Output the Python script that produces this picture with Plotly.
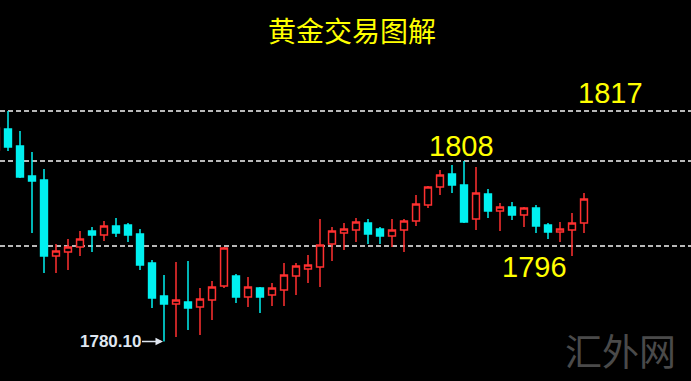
import plotly.graph_objects as go

# ---- data ----
idx = list(range(-1, 49))
open_ = [1812.0, 1815.5, 1812.67, 1807.67, 1807.0, 1794.33, 1795.0, 1795.83, 1798.5, 1797.83, 1799.33,
         1799.5, 1798.0, 1793.17, 1787.67, 1786.33, 1786.67, 1785.83, 1787.0, 1789.33, 1791.0,
         1787.5, 1789.0, 1787.83, 1788.67, 1791.0, 1792.17, 1792.5, 1796.33, 1798.17, 1798.67,
         1799.83, 1798.83, 1797.67, 1798.67, 1800.17, 1802.83, 1805.83, 1808.0, 1806.17, 1800.5,
         1804.67, 1801.83, 1802.5, 1801.17, 1802.33, 1799.5, 1798.33, 1798.67, 1799.83]
close_ = [1815.67, 1812.5, 1807.5, 1806.83, 1794.33, 1795.17, 1795.83, 1797.17, 1797.83, 1799.33, 1798.17,
          1797.83, 1792.83, 1787.33, 1786.33, 1787.0, 1785.67, 1787.17, 1789.17, 1795.67, 1787.5,
          1789.17, 1787.5, 1789.0, 1791.17, 1792.67, 1792.83, 1796.17, 1798.5, 1798.83, 1800.0,
          1798.0, 1797.67, 1798.67, 1800.17, 1803.0, 1805.83, 1807.83, 1806.17, 1800.0, 1804.83,
          1801.83, 1802.5, 1801.17, 1802.33, 1799.33, 1798.33, 1798.83, 1799.83, 1803.83]
high_ = [1816.5, 1818.5, 1815.17, 1811.67, 1808.83, 1796.33, 1797.17, 1798.5, 1799.17, 1800.17, 1800.67,
         1799.83, 1798.83, 1793.67, 1791.17, 1793.33, 1793.5, 1789.0, 1790.17, 1795.83, 1791.33,
         1790.83, 1789.17, 1789.83, 1793.17, 1793.17, 1794.5, 1800.5, 1799.17, 1799.83, 1800.67,
         1800.5, 1799.17, 1800.5, 1800.5, 1804.5, 1806.0, 1808.67, 1809.5, 1810.17, 1809.17,
         1805.5, 1803.17, 1803.33, 1802.5, 1802.83, 1799.83, 1800.0, 1801.5, 1804.83]
low_ = [1811.5, 1811.83, 1807.33, 1798.17, 1791.5, 1791.5, 1792.0, 1794.33, 1795.0, 1796.83, 1797.5,
        1796.67, 1792.0, 1785.67, 1780.1, 1780.83, 1782.0, 1781.17, 1783.67, 1789.0, 1786.5,
        1785.83, 1784.83, 1786.0, 1786.0, 1787.83, 1789.83, 1789.17, 1793.5, 1795.33, 1796.67,
        1796.33, 1796.33, 1795.83, 1795.0, 1799.33, 1802.33, 1804.5, 1804.83, 1799.83, 1798.67,
        1800.67, 1798.5, 1800.33, 1799.17, 1798.17, 1797.17, 1796.67, 1794.33, 1798.17]

level_values = [1818.5, 1810.17, 1796.0]
level_labels = ["1817", "1808", "1796"]
low_label = "1780.10"
low_index = 13
low_value = 1780.1
title_text = "黄金交易图解"
watermark = "汇外网"

W, H = 691, 381

fig = go.Figure()
fig.add_trace(go.Candlestick(
    x=idx, open=open_, high=high_, low=low_, close=close_,
    increasing=dict(line=dict(color="#ff3030", width=1.5), fillcolor="#000000"),
    decreasing=dict(line=dict(color="#00f0f0", width=1.5), fillcolor="#00f0f0"),
    hoverinfo="skip", showlegend=False,
))

for v in level_values:
    fig.add_shape(type="line", xref="paper", x0=0, x1=1, yref="y", y0=v, y1=v,
                  line=dict(color="#b8b8b8", width=2, dash="5px,3px"), layer="below")

label_px = [(610, 93), (461, 146), (534, 267)]
for txt, (px, py) in zip(level_labels, label_px):
    fig.add_annotation(text=txt, xref="paper", yref="paper", x=px / W, y=1 - py / H,
                       xanchor="center", yanchor="middle", showarrow=False,
                       font=dict(family="Liberation Sans, Arial", size=29, color="#ffff00"))

fig.add_annotation(text=title_text, xref="paper", yref="paper", x=352 / W, y=1 - 30 / H,
                   xanchor="center", yanchor="middle", showarrow=False,
                   font=dict(family="Noto Sans CJK SC", size=28, color="#ffff00"))

fig.add_annotation(text="<b>" + low_label + "</b>", x=low_index, y=low_value, xref="x", yref="y",
                   showarrow=True, ax=-54, ay=0, arrowhead=2, arrowsize=1, arrowwidth=1.5,
                   arrowcolor="#dfe6f0", standoff=1,
                   font=dict(family="Liberation Sans, Arial", size=17, color="#dfe6f0"))

fig.add_annotation(text=watermark, xref="paper", yref="paper", x=620 / W, y=1 - 350 / H,
                   xanchor="center", yanchor="middle", showarrow=False,
                   font=dict(family="Noto Sans CJK SC", size=37, color="#4a4a4a"))

fig.update_layout(
    width=W, height=H, margin=dict(l=0, r=0, t=0, b=0),
    paper_bgcolor="#000000", plot_bgcolor="#000000",
    boxgap=0.18,
    xaxis=dict(visible=False, range=[-8 / 12, (W - 8) / 12], rangeslider=dict(visible=False), fixedrange=True),
    yaxis=dict(visible=False, range=[1796 - (H - 246) / 6, 1796 + 246 / 6], fixedrange=True),
)

fig.write_html("out.html", config={"displayModeBar": False})
